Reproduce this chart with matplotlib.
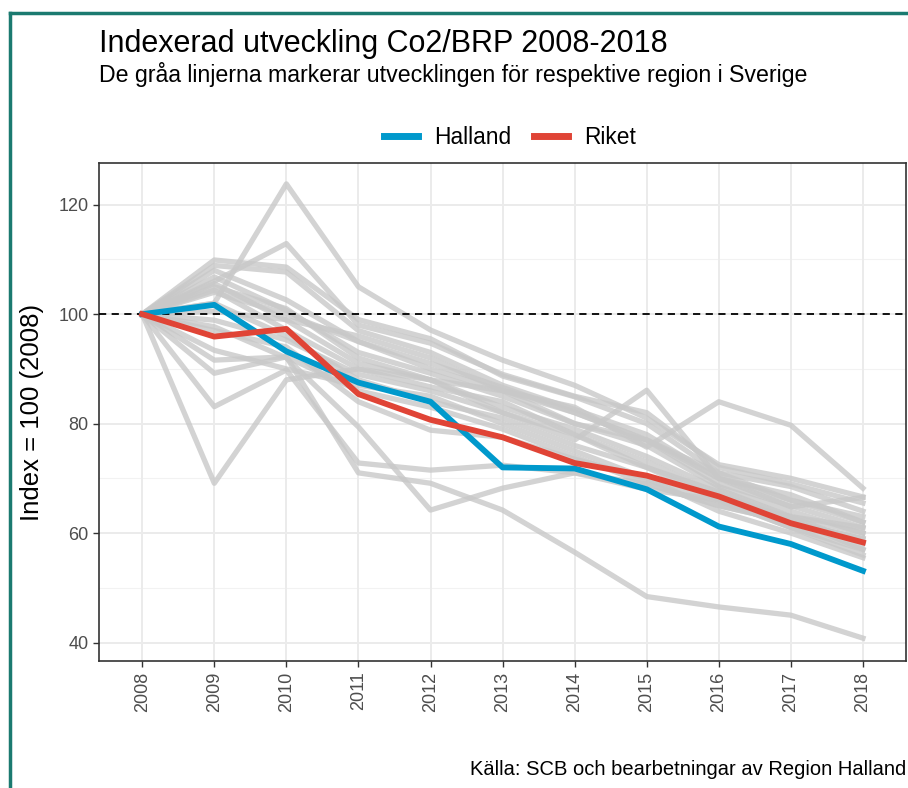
import matplotlib.pyplot as plt
import matplotlib.lines as mlines

plt.rcParams['font.family'] = ['Liberation Sans', 'DejaVu Sans']

years = list(range(2008, 2019))

# Index values (2008 = 100)
halland = [100, 101.7, 93.2, 87.5, 84.0, 72.0, 71.8, 68.0, 61.2, 58.0, 53.1]
riket = [100, 95.9, 97.3, 85.4, 80.7, 77.5, 72.8, 70.5, 66.7, 61.8, 58.3]

# Grey lines, one per region
regions = [
    [100, 102.0, 123.8, 105.0, 97.1, 91.6, 87.0, 81.0, 72.5, 70.0, 66.6],
    [100, 106.0, 112.9, 98.0, 94.7, 89.0, 85.0, 82.0, 72.0, 69.0, 65.5],
    [100, 69.1, 88.0, 90.0, 88.0, 86.0, 80.0, 77.0, 70.0, 66.0, 62.0],
    [100, 83.1, 89.8, 72.8, 71.5, 72.4, 71.0, 68.0, 66.0, 63.0, 60.0],
    [100, 89.2, 92.2, 71.0, 69.1, 64.2, 56.5, 48.4, 46.5, 45.0, 40.8],
    [100, 97.7, 92.0, 79.4, 64.2, 68.2, 71.0, 69.0, 65.0, 62.0, 59.0],
    [100, 105.0, 101.0, 92.0, 88.0, 82.0, 77.0, 86.1, 70.0, 64.8, 66.5],
    [100, 104.0, 100.0, 95.0, 90.0, 86.0, 83.0, 75.7, 84.0, 79.7, 68.2],
    [100, 109.9, 108.6, 99.0, 95.5, 88.7, 84.9, 80.0, 71.0, 68.5, 64.0],
    [100, 108.9, 107.7, 97.0, 93.0, 87.0, 82.6, 78.0, 70.0, 67.0, 62.0],
    [100, 108.0, 102.6, 95.0, 91.0, 86.6, 82.0, 77.0, 69.0, 65.0, 61.0],
    [100, 106.8, 100.7, 93.0, 89.2, 85.0, 80.0, 76.0, 68.5, 64.0, 60.0],
    [100, 105.6, 98.9, 91.0, 88.0, 83.0, 79.0, 74.0, 68.0, 63.0, 58.0],
    [100, 104.4, 97.1, 90.0, 86.7, 84.0, 78.0, 73.0, 67.0, 62.5, 57.0],
    [100, 98.9, 95.3, 89.0, 86.0, 82.0, 78.0, 72.0, 66.0, 61.0, 56.0],
    [100, 93.4, 90.0, 87.0, 85.0, 80.0, 75.0, 70.0, 64.0, 60.0, 55.5],
    [100, 91.6, 92.2, 86.0, 83.0, 79.0, 74.0, 69.0, 65.0, 62.0, 59.0],
    [100, 102.0, 96.0, 88.0, 84.0, 81.0, 76.0, 72.0, 67.5, 63.0, 61.0],
    [100, 97.0, 94.0, 84.0, 78.8, 77.5, 73.5, 70.0, 66.0, 61.0, 57.0],
    [100, 100.5, 99.0, 96.0, 92.0, 86.0, 82.0, 77.0, 71.0, 66.0, 63.0],
]

fig = plt.figure(figsize=(9.08, 7.88), dpi=100)
ax = fig.add_axes([0.109, 0.161, 0.889, 0.632])

# grid like ggplot theme_bw
for y in [50, 70, 90, 110]:
    ax.axhline(y, color='#f2f2f2', lw=0.8, zorder=0)
for y in [40, 60, 80, 100, 120]:
    ax.axhline(y, color='#ebebeb', lw=1.4, zorder=0)
for x in years:
    ax.axvline(x, color='#ebebeb', lw=1.4, zorder=0)

for r in regions:
    ax.plot(years, r, color='#c8c8c8', lw=3.8, alpha=0.8, zorder=2)

ax.axhline(100, color='black', lw=1.3, ls=(0, (4, 3)), zorder=3)
ax.plot(years, halland, color='#0099cc', lw=4.2, zorder=4)
ax.plot(years, riket, color='#e04436', lw=4.2, zorder=5)

ax.set_xlim(2007.4, 2018.6)
ax.set_ylim(36.6, 127.6)
ax.set_xticks(years)
ax.set_xticklabels([str(y) for y in years], rotation=90)
ax.set_yticks([40, 60, 80, 100, 120])
ax.tick_params(colors='#333333', labelcolor='#4d4d4d', labelsize=13, length=4, width=1)
ax.set_ylabel('Index = 100 (2008)', fontsize=18.5, labelpad=10)
for s in ax.spines.values():
    s.set_color('#333333')
    s.set_linewidth(1.2)

fig.text(0.109, 0.934, 'Indexerad utveckling Co2/BRP 2008-2018', fontsize=22, va='baseline')
fig.text(0.109, 0.896, 'De gråa linjerna markerar utvecklingen för respektive region i Sverige',
         fontsize=16.7, va='baseline')
fig.text(0.998, 0.012, 'Källa: SCB och bearbetningar av Region Halland', fontsize=14.5,
         ha='right', va='bottom')

handles = [mlines.Line2D([], [], color='#0099cc', lw=5),
           mlines.Line2D([], [], color='#e04436', lw=5)]
fig.legend(handles, ['Halland', 'Riket'], loc='center', bbox_to_anchor=(0.562, 0.826),
           ncol=2, frameon=False, fontsize=16.4, handlelength=1.5, columnspacing=1.0,
           handletextpad=0.7)

# teal frame at the top-left of the image
fig.add_artist(mlines.Line2D([9.5 / 908, 9.5 / 908], [0, 1 - 13 / 788], color='#1b7a70', lw=2.5))
fig.add_artist(mlines.Line2D([9.5 / 908, 1], [1 - 13 / 788, 1 - 13 / 788], color='#1b7a70', lw=2.5))

fig.savefig('out.png', dpi=100)
